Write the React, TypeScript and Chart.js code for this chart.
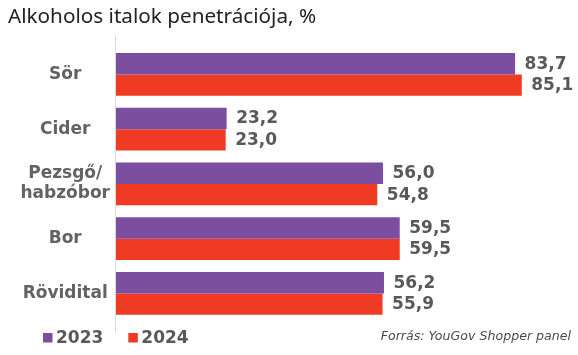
import React, { useEffect, useRef } from "react";
import { Chart, registerables } from "chart.js";

Chart.register(...registerables);

const categories: (string | string[])[] = ["Sör", "Cider", ["Pezsgő/", "habzóbor"], "Bor", "Rövidital"];
const seriesNames = ["2023", "2024"];
const values2023 = [83.7, 23.2, 56.0, 59.5, 56.2];
const values2024 = [85.1, 23.0, 54.8, 59.5, 55.9];
const seriesColors = ["#7b4ea0", "#ef3a24"];
const titleText = "Alkoholos italok penetrációja, %";
const sourceText = "Forrás: YouGov Shopper panel";

const LABEL_FONT = "bold 17px 'DejaVu Sans'";
const LABEL_COLOR = "#595959";

const fmt = (v: number) => v.toFixed(1).replace(".", ",");

const decorPlugin = {
  id: "decor",
  beforeDatasetsDraw(chart: any) {
    const ctx = chart.ctx;
    const area = chart.chartArea;
    ctx.save();
    ctx.strokeStyle = "#d9d9d9";
    ctx.lineWidth = 1;
    ctx.beginPath();
    ctx.moveTo(Math.round(area.left) - 0.5, area.top - 12);
    ctx.lineTo(Math.round(area.left) - 0.5, area.bottom + 12);
    ctx.stroke();
    ctx.restore();
  },
  afterDraw(chart: any) {
    const ctx = chart.ctx;
    ctx.save();
    // title
    ctx.fillStyle = "#222222";
    ctx.font = "20.7px 'Noto Sans'";
    ctx.textAlign = "left";
    ctx.textBaseline = "alphabetic";
    ctx.fillText(titleText, 8, 23);

    // value labels
    ctx.font = LABEL_FONT;
    ctx.fillStyle = LABEL_COLOR;
    ctx.textBaseline = "middle";
    chart.data.datasets.forEach((ds: any, di: number) => {
      const meta = chart.getDatasetMeta(di);
      meta.data.forEach((bar: any, i: number) => {
        ctx.fillText(fmt(ds.data[i]), bar.x + 9.5, bar.y + 0.5);
      });
    });

    // legend
    let x = 43;
    ctx.textBaseline = "alphabetic";
    chart.data.datasets.forEach((ds: any) => {
      ctx.fillStyle = ds.backgroundColor;
      ctx.fillRect(x, 333, 9.5, 9.5);
      ctx.fillStyle = LABEL_COLOR;
      ctx.font = LABEL_FONT;
      ctx.fillText(ds.label, x + 13, 342.5);
      x += 13 + ctx.measureText(ds.label).width + 25;
    });

    // source
    ctx.font = "italic 12.6px 'DejaVu Sans'";
    ctx.fillStyle = "#4a4a4a";
    ctx.textAlign = "right";
    ctx.fillText(sourceText, 571, 340);
    ctx.restore();
  },
};

export default function App() {
  const ref = useRef<HTMLCanvasElement | null>(null);
  useEffect(() => {
    document.body.style.margin = "0";
    const chart = new Chart(ref.current!, {
      type: "bar",
      data: {
        labels: categories,
        datasets: [
          { label: seriesNames[0], data: values2023, backgroundColor: seriesColors[0] },
          { label: seriesNames[1], data: values2024, backgroundColor: seriesColors[1] },
        ],
      },
      options: {
        indexAxis: "y",
        animation: false,
        responsive: false,
        devicePixelRatio: 1,
        layout: { padding: { top: 47, bottom: 34.25, left: 8, right: 9 } },
        datasets: {
          bar: { categoryPercentage: 0.785, barPercentage: 1 },
        },
        plugins: {
          legend: { display: false },
          title: { display: false },
          tooltip: { enabled: false },
        },
        scales: {
          x: {
            display: false,
            min: 0,
            max: 95,
          },
          y: {
            grid: { display: false, drawTicks: false },
            border: { display: false },
            afterFit: (scale: any) => {
              scale.width = 108;
            },
            ticks: {
              crossAlign: "center",
              padding: 6,
              color: "#636363",
              font: { family: "'DejaVu Sans'", size: 17, weight: "bold", lineHeight: 1.2 },
            },
          },
        },
      },
      plugins: [decorPlugin],
    });
    return () => chart.destroy();
  }, []);
  return <canvas ref={ref} width={578} height={355} style={{ display: "block" }} />;
}
